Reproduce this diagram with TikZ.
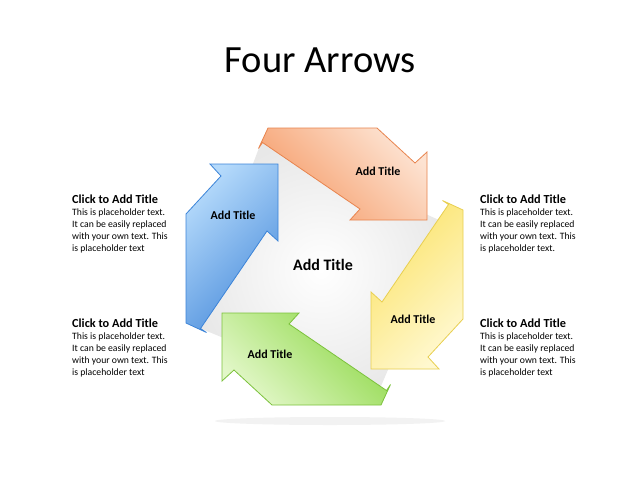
\documentclass[tikz,border=0pt]{standalone}
\usepackage{fontspec}
\setmainfont{Carlito}
\begin{document}
\begin{tikzpicture}[x=1pt,y=-1pt,
  lbl/.style={font=\fontsize{12}{14}\selectfont\bfseries},
  sidehead/.style={anchor=north west,font=\fontsize{12.3}{14}\selectfont\bfseries,inner sep=0},
  sidebody/.style={anchor=north west,align=left,font=\fontsize{9.7}{12}\selectfont,inner sep=0},
  arrowshape/.style={line width=0.8pt}]
\useasboundingbox[fill=white] (0,0) rectangle (640,480);
\definecolor{ob}{HTML}{E8844E}\definecolor{o1}{HTML}{F59A66}\definecolor{o2}{HTML}{FDE3D2}
\definecolor{bb}{HTML}{3C84D8}\definecolor{b1}{HTML}{4C8EDC}\definecolor{b2}{HTML}{B5DAFB}
\definecolor{yb}{HTML}{E8CF50}\definecolor{y1}{HTML}{FBE36A}\definecolor{y2}{HTML}{FFF8CF}
\definecolor{gb}{HTML}{7CC23C}\definecolor{g1}{HTML}{8ED848}\definecolor{g2}{HTML}{E2F7C8}
\node[font=\fontsize{38.5}{44}\selectfont] (title) at (320,60) {Four Arrows};
% shadow
\fill[gray!10] (330,421) ellipse (115 and 4);
% white square
\shade[inner color=white,outer color=gray!18] (262,140) -- (450,225) -- (375,400) -- (192,325) -- cycle;
\def\arr#1#2#3#4{%
\begin{scope}[shift={(324.5,266.5)},rotate=#1]
\shade[left color=#4,right color=#3,shading angle=#1-45,draw=#2,arrowshape]
 (-66,-118) -- (-56.5,-138.5) -- (52.5,-138.5) -- (90.5,-103.5) -- (102.5,-114.5)
 -- (102.5,-46.5) -- (25.5,-46.5) -- (35.5,-57.5) -- (-62,-124) -- cycle;
\end{scope}}
\arr{0}{ob}{o1}{o2}
\arr{-90}{yb}{y1}{y2}
\arr{-180}{gb}{g1}{g2}
\arr{-270}{bb}{b1}{b2}
\node[lbl] (lo) at (378,171) {Add Title};
\node[lbl] (ly) at (413,319) {Add Title};
\node[lbl] (lg) at (270,354) {Add Title};
\node[lbl] (lb) at (233,215) {Add Title};
\node[font=\fontsize{16}{18}\selectfont\bfseries] (lc) at (323,265) {Add Title};
\foreach \x/\y/\n/\e in {72/195/a/{text}, 480/195/b/{text.}, 72/319/c/{text}, 480/319/d/{text}}{
 \node[sidehead] (h\n) at (\x,\y) {Click to Add Title};
 \node[sidebody] (t\n) at (\x,\y+14) {This is placeholder text.\\It can be easily replaced\\with your own text. This\\is placeholder \e};
}
\end{tikzpicture}
\end{document}
